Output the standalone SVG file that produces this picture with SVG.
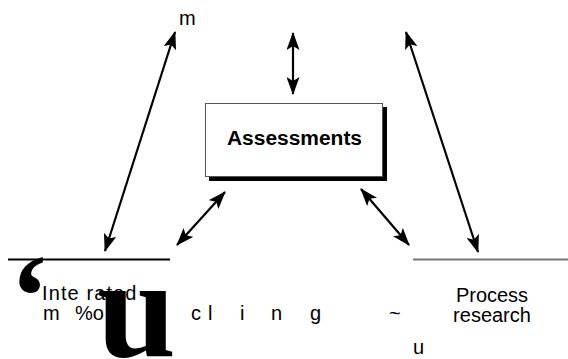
<svg xmlns="http://www.w3.org/2000/svg" width="568" height="359" viewBox="0 0 568 359">
<style>
.t{font-family:"Liberation Sans",Arial,sans-serif;font-size:20px;fill:#000}
.c{stroke:#000;stroke-width:2.2;fill:none;marker-start:url(#ah);marker-end:url(#ah)}
</style>
<defs>
<marker id="ah" viewBox="0 0 18 13" refX="17" refY="6.5" markerWidth="18" markerHeight="13" markerUnits="userSpaceOnUse" orient="auto-start-reverse">
<path d="M0,0 L18,6.5 L0,13 L4,6.5 Z" fill="#000"/>
</marker>
</defs>
<rect width="568" height="359" fill="#fff"/>
<g id="connectors">
<line class="c" x1="293" y1="33" x2="293" y2="94"/>
<line class="c" x1="175" y1="32" x2="105" y2="251"/>
<line class="c" x1="406" y1="32" x2="478" y2="252"/>
<line class="c" x1="225" y1="192" x2="177" y2="245"/>
<line class="c" x1="361" y1="189" x2="409" y2="245"/>
</g>
<g id="assessments">
<rect x="209" y="107" width="178" height="74" fill="#000"/>
<rect x="205.5" y="103.5" width="177" height="73" fill="#fff" stroke="#555" stroke-width="1"/>
<text class="t" x="227" y="145" font-weight="bold" font-size="20.5" textLength="135" lengthAdjust="spacingAndGlyphs">Assessments</text>
</g>
<g id="top-label">
<text class="t" x="179" y="25" font-size="24">m</text>
</g>
<g id="modelling">
<line x1="8" y1="259.5" x2="170" y2="259.5" stroke="#000" stroke-width="2"/>
<text x="10" y="336" font-family="Liberation Serif,'Times New Roman',serif" font-weight="bold" font-size="118">‘</text>
<text class="t" x="42" y="300" letter-spacing="1.1">Inte rated</text>
<text class="t" x="43" y="320">m</text>
<text class="t" x="75" y="320">%o</text>
<text class="t" x="191" y="320">c</text>
<text class="t" x="208" y="320">l</text>
<text class="t" x="240" y="320">i</text>
<text class="t" x="271" y="320">n</text>
<text class="t" x="310" y="320">g</text>
<text class="t" x="389" y="320">~</text>
<text x="97" y="356" font-family="Liberation Serif,'Times New Roman',serif" font-weight="bold" font-size="142">u</text>
</g>
<g id="process">
<line x1="413" y1="259.5" x2="568" y2="259.5" stroke="#777" stroke-width="2"/>
<text class="t" x="492" y="302" text-anchor="middle">Process</text>
<text class="t" x="492" y="322" text-anchor="middle">research</text>
<text class="t" x="413" y="354">u</text>
</g>
</svg>
